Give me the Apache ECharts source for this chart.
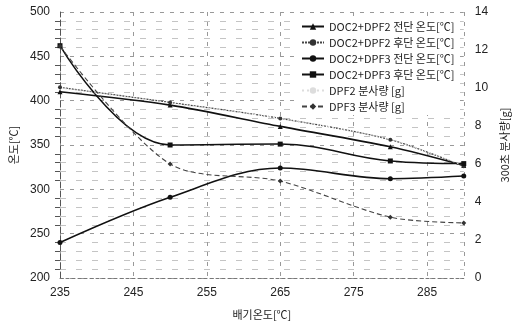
<!DOCTYPE html>
<html>
<head>
<meta charset="utf-8">
<script src="https://cdn.jsdelivr.net/npm/echarts@6/dist/echarts.min.js"></script>
<style>
  html, body { margin: 0; padding: 0; background: #fff; }
  #chart { width: 518px; height: 325px; }
</style>
</head>
<body>
<div id="chart"></div>
<script>
// 배기온도 (x)
var xTemps = [235, 250, 265, 280, 290];
var xTicks = [235, 245, 255, 265, 275, 285];
// 온도 [℃]
var dpf2Front = [410, 395, 371, 348, 327];
var dpf2Rear = [415, 398, 380, 356, 326];
var dpf3Front = [240, 291, 324, 312, 315];
var dpf3Rear = [462, 350, 351, 332, 329];
// 분사량 [g]
var dpf2Inj = [10.0, 9.2, 8.4, 7.3, 5.9];
var dpf3Inj = [12.2, 6.0, 5.1, 3.2, 2.9];

var X_MIN = 235;
var X_MAX = 290;

function pairs(vals) {
    return xTemps.map(function (x, i) { return [x - X_MIN, vals[i]]; });
}

var font = 'Liberation Sans, Noto Sans CJK KR, sans-serif';
var gridLine = { show: true, lineStyle: { color: '#999', type: [4, 6], width: 1 } };

var chart = echarts.init(document.getElementById('chart'), null, { renderer: 'canvas' });
var option = {
    backgroundColor: '#fff',
    animation: false,
    grid: { left: 52, right: 36, top: 12, bottom: 40 },
    legend: {
        orient: 'vertical',
        left: 297,
        top: 18,
        itemWidth: 22,
        itemHeight: 8,
        itemGap: 5,
        backgroundColor: '#fff',
        padding: [3, 4, 3, 4],
        textStyle: { fontFamily: 'Noto Sans CJK KR, sans-serif', fontSize: 11, color: '#222' },
        data: ['DOC2+DPF2 전단 온도[℃]', 'DOC2+DPF2 후단 온도[℃]', 'DOC2+DPF3 전단 온도[℃]',
               'DOC2+DPF3 후단 온도[℃]', 'DPF2 분사량 [g]', 'DPF3 분사량 [g]']
    },
    xAxis: {
        type: 'value',
        min: 0,
        max: X_MAX - X_MIN,
        interval: 10,
        name: '배기온도[℃]',
        nameLocation: 'middle',
        nameGap: 31,
        nameTextStyle: { fontFamily: 'Noto Sans CJK KR, sans-serif', fontSize: 11, color: '#222' },
        axisLine: { show: true, lineStyle: { color: '#777', type: [3, 3] } },
        axisTick: { show: false },
        splitLine: gridLine,
        axisLabel: {
            showMaxLabel: false,
            margin: 9,
            fontFamily: font, fontSize: 12, color: '#222',
            formatter: function (v) {
                var t = v + X_MIN;
                return xTicks.indexOf(t) >= 0 ? String(t) : '';
            }
        }
    },
    yAxis: [{
        type: 'value',
        min: 200,
        max: 500,
        interval: 50,
        name: '온도[℃]',
        nameLocation: 'middle',
        nameRotate: 90,
        nameGap: 41,
        nameTextStyle: { fontFamily: 'Noto Sans CJK KR, sans-serif', fontSize: 11, color: '#222' },
        axisLine: { show: true, lineStyle: { color: '#555', type: [6, 3] } },
        axisTick: { show: false },
        minorTick: { show: true, splitNumber: 5, length: 5, lineStyle: { color: '#555' } },
        splitLine: gridLine,
        minorSplitLine: { show: true, lineStyle: { color: '#c4c4c4', type: [6, 10] } },
        axisLabel: { margin: 10, fontFamily: font, fontSize: 12, color: '#222' }
    }, {
        type: 'value',
        min: 0,
        max: 14,
        interval: 2,
        position: 'right',
        name: '300초 분사량[g]',
        nameLocation: 'middle',
        nameRotate: 90,
        nameGap: 28,
        nameTextStyle: { fontFamily: 'Noto Sans CJK KR, sans-serif', fontSize: 11, color: '#222' },
        axisLine: { show: false },
        axisTick: { show: false },
        splitLine: { show: false },
        axisLabel: { margin: 11, fontFamily: font, fontSize: 12, color: '#222' }
    }],
    series: [{
        name: 'DOC2+DPF2 전단 온도[℃]',
        type: 'line',
        smooth: 0.3,
        data: pairs(dpf2Front),
        symbol: 'triangle', symbolSize: 5,
        itemStyle: { color: '#111' },
        lineStyle: { color: '#111', width: 1.6 }
    }, {
        name: 'DOC2+DPF2 후단 온도[℃]',
        type: 'line',
        smooth: 0.3,
        data: pairs(dpf2Rear),
        symbol: 'circle', symbolSize: 4,
        itemStyle: { color: '#333' },
        lineStyle: { color: '#444', width: 1.2, type: [2, 1] }
    }, {
        name: 'DOC2+DPF3 전단 온도[℃]',
        type: 'line',
        smooth: 0.35,
        data: pairs(dpf3Front),
        symbol: 'circle', symbolSize: 5,
        itemStyle: { color: '#111' },
        lineStyle: { color: '#111', width: 1.6 }
    }, {
        name: 'DOC2+DPF3 후단 온도[℃]',
        type: 'line',
        smooth: 0.4,
        data: pairs(dpf3Rear),
        symbol: 'rect', symbolSize: 5,
        itemStyle: { color: '#111' },
        lineStyle: { color: '#111', width: 1.5 }
    }, {
        name: 'DPF2 분사량 [g]',
        type: 'line',
        yAxisIndex: 1,
        smooth: 0.3,
        data: pairs(dpf2Inj),
        symbol: 'none',
        itemStyle: { color: '#ddd' },
        lineStyle: { color: '#ddd', width: 1, type: [2, 3] }
    }, {
        name: 'DPF3 분사량 [g]',
        type: 'line',
        yAxisIndex: 1,
        smooth: 0.3,
        data: pairs(dpf3Inj),
        symbol: 'diamond', symbolSize: 5,
        itemStyle: { color: '#333' },
        lineStyle: { color: '#444', width: 1.1, type: [5, 3] }
    }]
};
chart.setOption(option);
</script>
</body>
</html>
